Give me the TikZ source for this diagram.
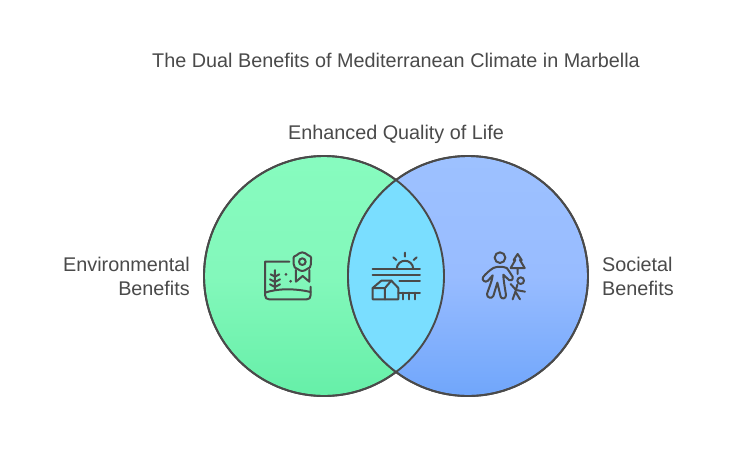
\documentclass[tikz,border=0pt]{standalone}
\usepackage{fontspec}
\setmainfont{Liberation Sans}
\definecolor{ink}{HTML}{4A4A4A}
\definecolor{greenT}{HTML}{87FBBF}
\definecolor{greenM}{HTML}{83F8BB}
\definecolor{greenB}{HTML}{66EFA8}
\definecolor{blueT}{HTML}{9DC1FF}
\definecolor{blueM}{HTML}{98BCFF}
\definecolor{blueB}{HTML}{70A6FB}
\definecolor{lens}{HTML}{7ADEFF}
\tikzset{
  lbl/.style={text=ink,font=\fontsize{19.8}{24}\selectfont,inner sep=0pt},
  ring/.style={circle,minimum size=240pt,inner sep=0pt,draw=ink,line width=1.9pt},
  ico/.style={draw=ink,line width=2pt,line cap=round,line join=round},
  icoframe/.style={x=0.3333pt,y=-0.3333pt}
}
\begin{document}
\begin{tikzpicture}[x=1pt,y=-1pt]
\useasboundingbox (0,0) rectangle (748,456);
\fill[white] (0,0) rectangle (748,456);
\node[ring,top color=greenT,bottom color=greenB,middle color=greenM] (envc) at (324,276) {};
\node[ring,top color=blueT,bottom color=blueB,middle color=blueM] (socc) at (468,276) {};
\begin{scope}
  \clip (324,276) circle [radius=120];
  \fill[lens] (468,276) circle [radius=120];
\end{scope}
\node[ring] (envo) at (324,276) {};
\node[ring] (soco) at (468,276) {};
\node[lbl,anchor=center] (title) at (396,60.5) {The Dual Benefits of Mediterranean Climate in Marbella};
\node[lbl,anchor=center] (top) at (396,134) {Enhanced Quality of Life};
\node[lbl,anchor=east,align=right] (env) at (190,276.5) {Environmental\\Benefits};
\node[lbl,anchor=west,align=left] (soc) at (602,276.5) {Societal\\Benefits};
% environment icon
\begin{scope}[shift={(250,240)},icoframe]
  \draw[ico] (118,65) -- (45,65) -- (45,165) .. controls (45,174) and (50,178) .. (58,178) -- (170,178) .. controls (178,178) and (182,174) .. (182,165) -- (182,140);
  \draw[ico] (45,158) .. controls (80,146) and (130,144) .. (182,156);
  \draw[ico] (75,90) -- (75,150) (62,103) -- (75,110) -- (88,103) (60,118) -- (75,126) -- (90,118) (60,133) -- (75,141) -- (90,133);
  \fill[ink] (108,103) circle [radius=4.5] (122,124) circle [radius=4.5];
  \draw[ico] (157,65) circle [radius=10];
  \draw[ico] (157,37) .. controls (166,37) and (169,43) .. (173,45) .. controls (179,46) and (186,51) .. (183,60) .. controls (182,64) and (185,68) .. (183,72) .. controls (185,81) and (176,86) .. (171,87) .. controls (166,89) and (163,94) .. (157,93) .. controls (151,94) and (148,89) .. (143,87) .. controls (138,86) and (129,81) .. (131,72) .. controls (129,68) and (132,64) .. (131,60) .. controls (128,51) and (135,46) .. (141,45) .. controls (145,43) and (148,37) .. (157,37) -- cycle;
  \draw[ico] (138,90) -- (138,125) -- (158,108) -- (178,125) -- (178,90);
\end{scope}
% shared icon
\begin{scope}[shift={(360,240)},icoframe]
  \draw[ico] (110,87) .. controls (112,54) and (158,54) .. (160,87);
  \draw[ico] (135,38) -- (135,50) (100,52) -- (109,60) (170,52) -- (161,60);
  \draw[ico] (38,87) -- (180,87) (38,104) -- (180,104) (118,122) -- (180,122) (115,158) -- (180,158);
  \draw[ico] (128,158) -- (128,178) (146,158) -- (146,178) (164,158) -- (164,178);
  \draw[ico] (38,178) -- (38,144) -- (64,122) -- (94,122) -- (115,144) -- (115,178) -- cycle;
  \draw[ico] (38,144) -- (75,144) -- (75,178) (75,144) -- (94,122);
\end{scope}
% society icon
\begin{scope}[shift={(470,240)},icoframe]
  \draw[ico] (90,53) circle [radius=16];
  \draw[ico] (70,84) .. controls (80,79) and (100,79) .. (110,84) .. controls (116,90) and (122,102) .. (128,110) .. controls (130,120) and (122,124) .. (117,120) -- (100,104) .. controls (100,120) and (106,150) .. (108,166) .. controls (108,177) and (94,178) .. (92,170) -- (82,128) -- (70,168) .. controls (66,177) and (50,174) .. (51,162) .. controls (56,145) and (66,125) .. (68,106) -- (54,122) .. controls (46,130) and (34,120) .. (39,112) .. controls (46,102) and (60,90) .. (70,84) -- cycle;
  \draw[ico] (143,42) -- (155,60) -- (150,60) -- (164,84) -- (122,84) -- (136,60) -- (131,60) -- cycle (143,84) -- (143,102);
  \draw[ico] (152,122) circle [radius=10];
  \draw[ico] (122,132) -- (138,150) -- (165,155) (142,134) -- (138,150) -- (128,178) (138,158) -- (150,178);
\end{scope}
\end{tikzpicture}
\end{document}
